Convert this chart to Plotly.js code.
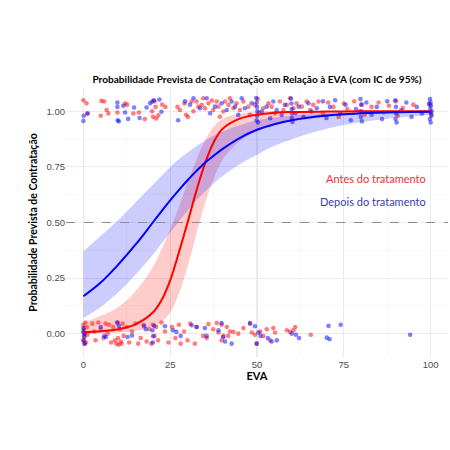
<!DOCTYPE html>
<html>
<head>
<meta charset="utf-8">
<script src="https://cdn.plot.ly/plotly-3.0.1.min.js"></script>
<style>html,body{margin:0;padding:0;background:#fff;}#chart{width:450px;height:450px;}</style>
</head>
<body>
<div id="chart"></div>
<script>
// ---- data ----
const curveX = [0,5,10,15,20,22.5,25,27.5,30,32.5,35,37.5,40,45,50,55,60,70,80,90,100];
const antesFit   = [0.006,0.011,0.020,0.042,0.095,0.150,0.240,0.365,0.500,0.640,0.765,0.860,0.920,0.967,0.985,0.994,0.997,0.999,1.0,1.0,1.0];
const antesUpper = [0.05,0.08,0.12,0.19,0.30,0.38,0.47,0.57,0.68,0.78,0.87,0.93,0.965,0.990,0.997,1.0,1.0,1.0,1.0,1.0,1.0];
const antesLower = [0.0,0.002,0.005,0.012,0.030,0.052,0.095,0.180,0.300,0.445,0.585,0.695,0.780,0.865,0.910,0.938,0.955,0.975,0.988,0.995,0.998];
const depoisFit   = [0.168,0.230,0.310,0.400,0.500,0.550,0.600,0.646,0.690,0.731,0.769,0.800,0.830,0.880,0.917,0.942,0.960,0.981,0.991,0.996,0.998];
const depoisUpper = [0.37,0.44,0.51,0.59,0.67,0.71,0.75,0.785,0.815,0.843,0.868,0.89,0.908,0.938,0.960,0.972,0.980,0.990,0.995,0.998,0.999];
const depoisLower = [0.07,0.12,0.185,0.265,0.355,0.405,0.455,0.505,0.553,0.598,0.638,0.675,0.708,0.762,0.805,0.845,0.875,0.922,0.952,0.971,0.985];

const antesTopX = [0.0,0.9,1.2,5.2,6.0,5.0,6.7,7.2,9.8,12.0,12.6,14.4,16.0,17.7,19.8,20.8,20.1,21.0,21.6,23.6,22.7,20.5,27.1,27.8,29.1,29.6,30.1,31.2,31.7,32.6,33.1,34.1,34.5,35.0,36.0,37.0,37.4,38.4,38.9,39.3,40.3,40.8,41.8,42.2,43.2,44.1,45.1,46.1,47.5,48.0,49.4,50.2,50.5,51.8,53.3,54.2,55.2,56.6,57.6,58.6,59.5,60.5,61.4,62.9,64.3,65.3,66.2,67.7,69.0,70.5,72.0,73.5,75.0,76.0,78.0,79.5,80.2,81.0,83.0,85.0,86.5,88.0,90.0,90.5,92.0,95.0,99.5,100.2];
const antesTopY = [1.050,1.036,0.990,1.047,1.044,0.980,1.006,0.990,0.995,1.035,1.030,0.990,0.995,0.965,1.000,1.020,0.975,0.968,0.982,1.020,1.030,1.045,1.020,1.006,1.035,0.985,0.975,1.044,1.000,1.044,1.021,1.029,1.059,1.014,1.036,1.049,1.006,1.044,1.021,0.976,0.999,1.044,1.029,1.059,1.014,1.036,1.006,1.044,1.021,0.984,1.029,1.055,0.995,1.014,1.036,1.021,0.991,1.044,1.006,1.029,1.059,1.014,1.036,1.021,1.044,1.006,1.029,1.044,0.990,1.040,1.020,0.975,1.035,1.010,1.045,1.000,1.030,0.985,1.020,1.040,0.995,1.025,1.045,0.980,1.015,1.030,1.035,0.985];
const depoisTopX = [0.1,1.2,0.0,9.8,9.8,9.9,10.2,11.5,12.0,12.9,14.6,16.2,18.2,19.2,19.8,20.3,21.9,22.5,27.3,29.3,30.7,31.7,33.6,35.5,36.5,37.9,39.8,41.3,42.7,43.7,44.6,45.6,46.5,48.5,49.8,49.9,50.0,50.1,50.0,49.9,50.3,51.4,52.8,53.8,54.7,55.7,57.1,58.0,59.8,59.9,60.0,60.1,60.0,60.2,61.1,62.0,63.4,64.8,65.7,67.2,69.0,70.0,71.0,72.5,74.0,75.5,77.0,78.5,79.8,80.0,80.1,79.9,80.2,81.5,83.0,84.5,86.0,87.5,89.8,90.0,90.1,89.9,90.2,91.5,93.0,94.5,96.0,97.5,99.8,100.0,100.1,99.9,100.0,100.2,99.8,100.0,100.3,99.7];
const depoisTopY = [0.980,0.990,0.957,1.040,1.020,0.960,0.955,1.025,0.995,0.966,1.017,0.970,1.017,1.036,1.044,1.050,1.053,0.998,0.960,1.045,1.030,1.059,1.014,1.059,0.991,1.021,1.036,1.006,1.044,1.021,0.984,1.059,1.014,1.036,1.060,1.040,1.020,1.000,0.980,0.960,0.950,0.999,1.021,0.969,1.044,1.006,0.984,1.029,1.058,1.035,1.010,0.990,0.970,0.952,0.991,1.021,0.976,1.036,0.999,1.014,1.045,0.970,1.020,1.050,0.990,1.030,0.960,1.010,1.055,1.030,1.000,0.975,0.955,1.040,0.985,1.020,0.965,1.045,1.050,1.020,0.990,0.965,0.950,1.005,1.040,0.975,1.020,0.990,1.055,1.040,1.025,1.010,0.995,0.980,0.965,0.950,1.000,1.030];
const antesBotX = [0.0,0.2,0.1,0.3,0.0,0.4,0.6,1.0,1.2,0.8,2.6,3.1,3.5,4.3,5.0,5.8,6.4,7.0,7.4,8.0,8.6,9.1,9.5,9.8,10.0,10.2,10.5,10.8,11.0,11.3,11.6,12.5,13.2,14.0,15.0,15.8,16.5,17.3,18.2,19.0,19.6,20.0,20.5,21.0,21.5,22.5,23.5,24.5,25.5,26.5,27.5,28.0,29.0,30.0,30.8,32.1,32.6,34.5,36.0,35.5,37.4,38.4,38.9,39.8,40.3,39.8,41.3,41.7,42.2,43.2,44.6,46.1,48.0,48.5,49.4,49.9,50.9,51.8,52.8,53.8,54.7,55.2,58.6,59.5,61.0,60.5,65.5];
const antesBotY = [0.040,0.020,0.005,-0.015,-0.030,-0.045,0.050,0.030,-0.005,-0.040,0.045,0.010,-0.030,0.050,0.020,-0.020,0.045,0.000,0.040,-0.040,0.030,-0.030,-0.045,0.050,-0.020,-0.050,0.020,-0.035,-0.045,0.045,-0.010,0.030,-0.040,0.010,0.045,-0.045,-0.020,0.040,-0.035,0.020,-0.045,0.040,-0.010,0.030,-0.030,0.050,0.010,-0.040,0.030,-0.020,0.040,-0.045,0.010,-0.030,0.045,-0.045,0.030,-0.010,0.043,-0.020,0.020,0.048,0.005,0.040,-0.010,-0.030,0.030,-0.010,0.010,0.008,0.000,0.025,0.048,0.005,-0.005,-0.045,0.010,-0.010,0.020,-0.030,0.025,0.005,0.015,0.008,0.030,0.015,-0.005];
const depoisBotX = [0.0,0.2,0.1,0.3,0.0,0.4,5.0,6.5,6.0,9.8,10.2,12.7,14.0,17.5,18.0,19.9,20.1,20.0,20.4,23.5,25.8,26.8,28.0,31.2,32.6,35.0,35.5,38.9,39.8,40.3,40.8,42.7,48.0,49.4,49.9,50.4,51.0,53.1,54.2,55.7,60.0,61.2,62.1,70.1,70.9,70.6,74.1,94.1];
const depoisBotY = [0.010,-0.010,-0.030,-0.045,0.025,0.000,0.030,-0.015,-0.010,0.050,0.035,-0.015,-0.008,0.033,0.020,0.015,-0.012,-0.040,0.035,0.033,0.015,0.008,-0.010,0.038,0.030,0.025,-0.010,0.015,0.048,-0.015,-0.035,-0.045,0.045,0.033,-0.045,0.005,-0.010,-0.020,-0.035,-0.030,0.000,-0.005,-0.020,-0.018,-0.025,0.035,0.040,-0.005];

const xTickVals = [0,25,50,75,100];
const xTickText = ['0','25','50','75','100'];
const yTickVals = [0,0.25,0.5,0.75,1];
const yTickText = ['0.00','0.25','0.50','0.75','1.00'];
const refLine = 0.5;
const labels = ['Antes do tratamento','Depois do tratamento'];
const labelPos = [[99.3,0.70],[99.3,0.596]];

// ---- traces ----
const RED='#ff0000', BLUE='#0000ff';
function band(lo, hi, fill){
  return [
    {x:curveX,y:lo,type:'scatter',mode:'lines',line:{width:0,shape:'spline'},hoverinfo:'skip',showlegend:false},
    {x:curveX,y:hi,type:'scatter',mode:'lines',line:{width:0,shape:'spline'},fill:'tonexty',fillcolor:fill,hoverinfo:'skip',showlegend:false}
  ];
}
function pts(x,y,c){
  return {x:x,y:y,type:'scatter',mode:'markers',marker:{size:4.6,color:c,opacity:0.5,line:{width:0}},hoverinfo:'skip',showlegend:false};
}
const traces = [].concat(
  band(antesLower, antesUpper, 'rgba(255,0,0,0.2)'),
  band(depoisLower, depoisUpper, 'rgba(0,0,255,0.2)'),
  [pts(antesTopX,antesTopY,RED), pts(antesBotX,antesBotY,RED), pts(depoisTopX,depoisTopY,BLUE), pts(depoisBotX,depoisBotY,BLUE)],
  [{x:curveX,y:antesFit,type:'scatter',mode:'lines',line:{color:RED,width:2,shape:'spline'},hoverinfo:'skip',showlegend:false},
   {x:curveX,y:depoisFit,type:'scatter',mode:'lines',line:{color:BLUE,width:2,shape:'spline'},hoverinfo:'skip',showlegend:false}]
);

const TF = 'Lato, Open Sans, sans-serif';
const layout = {
  width:450,height:450,
  paper_bgcolor:'#ffffff',plot_bgcolor:'#ffffff',
  margin:{l:66,r:2,t:88,b:93},
  showlegend:false,hovermode:false,
  font:{family:'Liberation Sans, Arial, sans-serif',size:9,color:'#4d4d4d'},
  title:{text:'Probabilidade Prevista de Contratação em Relação à EVA (com IC de 95%)',
         font:{family:TF,size:10.1,color:'#000000',weight:'bold'},
         x:0.5,xref:'paper',xanchor:'center',y:0.824,yref:'container',yanchor:'middle'},
  xaxis:{range:[-5,105],tickvals:xTickVals,ticktext:xTickText,zeroline:false,showline:false,ticks:'',
         gridcolor:'#ebebeb',gridwidth:1.1,
         minor:{dtick:12.5,tick0:0,showgrid:true,gridcolor:'#f3f3f3',gridwidth:0.6},
         tickfont:{size:9.5,color:'#4d4d4d'},
         title:{text:'EVA',font:{family:TF,size:11,color:'#000000',weight:'bold'},standoff:3}},
  yaxis:{range:[-0.105,1.105],tickvals:yTickVals,ticktext:yTickText,zeroline:false,showline:false,ticks:'',
         gridcolor:'#ebebeb',gridwidth:1.1,
         minor:{dtick:0.125,tick0:0,showgrid:true,gridcolor:'#f3f3f3',gridwidth:0.6},
         tickfont:{size:9.5,color:'#4d4d4d'},
         title:{text:'Probabilidade Prevista de Contratação',font:{family:TF,size:10.5,color:'#000000',weight:'bold'},standoff:6}},
  shapes:[{type:'line',xref:'paper',x0:0,x1:1,yref:'y',y0:refLine,y1:refLine,line:{color:'#8c8c8c',width:1,dash:'dash'}}],
  annotations:[
    {x:labelPos[0][0],y:labelPos[0][1],xref:'x',yref:'y',text:labels[0],showarrow:false,xanchor:'right',yanchor:'middle',
     font:{family:TF,size:11,color:'rgb(235,50,55)'}},
    {x:labelPos[1][0],y:labelPos[1][1],xref:'x',yref:'y',text:labels[1],showarrow:false,xanchor:'right',yanchor:'middle',
     font:{family:TF,size:11,color:'rgb(60,60,170)'}}
  ]
};
Plotly.newPlot('chart',traces,layout,{staticPlot:true,displayModeBar:false});
</script>
</body>
</html>
